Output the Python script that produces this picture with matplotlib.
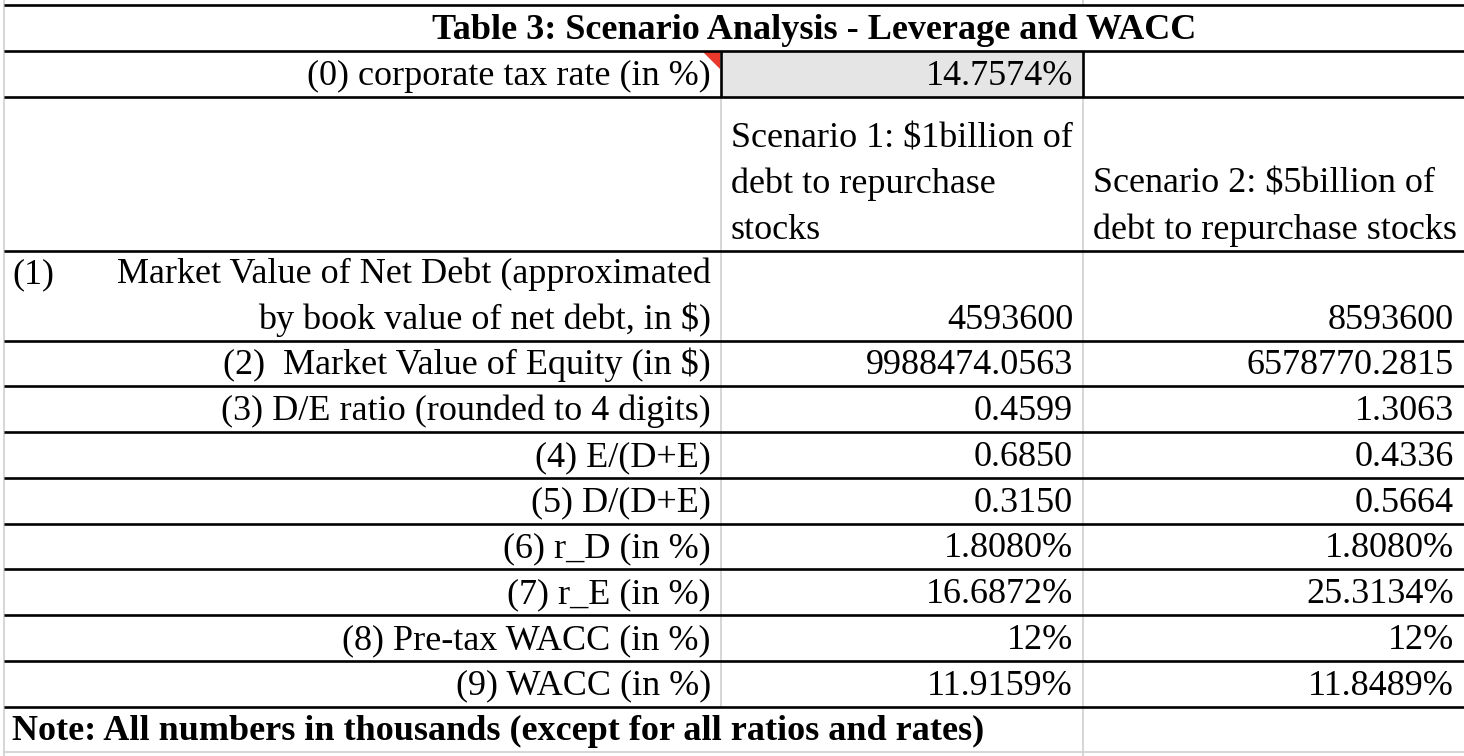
import matplotlib
matplotlib.use('Agg')
import matplotlib.pyplot as plt
from matplotlib.patches import Rectangle, Polygon

# table contents
title = 'Table 3: Scenario Analysis - Leverage and WACC'
tax_label = '(0) corporate tax rate (in %)'
tax_value = '14.7574%'
header_s1 = ['Scenario 1: $1billion of', 'debt to repurchase', 'stocks']
header_s2 = ['Scenario 2: $5billion of', 'debt to repurchase stocks']
labels = ['(2)  Market Value of Equity (in $)',
          '(3) D/E ratio (rounded to 4 digits)',
          '(4) E/(D+E)',
          '(5) D/(D+E)',
          '(6) r_D (in %)',
          '(7) r_E (in %)',
          '(8) Pre-tax WACC (in %)',
          '(9) WACC (in %)']
debt_label = ['(1)', 'Market Value of Net Debt (approximated', 'by book value of net debt, in $)']
debt_s1 = '4593600'
debt_s2 = '8593600'
scen1 = ['9988474.0563', '0.4599', '0.6850', '0.3150', '1.8080%', '16.6872%', '12%', '11.9159%']
scen2 = ['6578770.2815', '1.3063', '0.4336', '0.5664', '1.8080%', '25.3134%', '12%', '11.8489%']
note = 'Note: All numbers in thousands (except for all ratios and rates)'

W, H = 1464, 756
fig = plt.figure(figsize=(14.64, 7.56), dpi=100)
ax = fig.add_axes([0, 0, 1, 1])
ax.set_xlim(0, W)
ax.set_ylim(H, 0)
ax.axis('off')

font = ['Liberation Serif', 'DejaVu Serif']
fs = 26
black_lw = 1.9
gray = '#d0d0d0'
gray_lw = 1.2

# column edges
x0, x1, x2, x3 = 4, 721, 1083, W
pad = 10
row_h = 45.75
# horizontal edges
y_title = 5
y_tax = 51
y_head = 97
y_r1 = 250.7
y_r2 = 340.7
rows_y = [y_r2 + row_h * i for i in range(len(labels) + 1)]
y_note_bot = rows_y[-1] + row_h
base_off = 12

# gray fill of tax cell
ax.add_patch(Rectangle((x1, y_tax), x2 - x1, y_head - y_tax, facecolor='#e5e5e5',
                       edgecolor='none', zorder=0))
# comment marker
ax.add_patch(Polygon([(x1 - 19, y_tax), (x1 - 1, y_tax), (x1 - 1, y_tax + 18)],
                     closed=True, facecolor='#e8392c', edgecolor='none', zorder=1))

# gray grid lines (note text overflows the middle gridline)
ax.plot([x0, x0], [0, H], color=gray, lw=gray_lw, zorder=1)
ax.plot([x2, x2], [0, y_title], color=gray, lw=gray_lw, zorder=1)
ax.plot([x1, x1], [y_head, rows_y[-1]], color=gray, lw=gray_lw, zorder=1)
ax.plot([x2, x2], [y_head, H], color=gray, lw=gray_lw, zorder=1)
ax.plot([x0, W], [y_note_bot, y_note_bot], color=gray, lw=gray_lw, zorder=1)

# black borders
for y in [y_title, y_tax, y_head, y_r1] + rows_y:
    ax.plot([x0, W], [y, y], color='black', lw=black_lw, zorder=2, solid_capstyle='butt')
for x in [x1, x2]:
    ax.plot([x, x], [y_tax, y_head], color='black', lw=black_lw, zorder=2, solid_capstyle='butt')

kw = dict(family=font, fontsize=fs, va='baseline', color='black')

# title and tax row
ax.text(814, y_tax - base_off, title, ha='center', fontweight='bold', **kw)
ax.text(x1 - pad, y_head - base_off, tax_label, ha='right', **kw)
ax.text(x2 - pad, y_head - base_off, tax_value, ha='right', **kw)

# headers (bottom aligned, wrapped)
for i, line in enumerate(reversed(header_s1)):
    ax.text(x1 + pad, y_r1 - base_off - i * row_h, line, ha='left', **kw)
for i, line in enumerate(reversed(header_s2)):
    ax.text(x2 + pad, y_r1 - base_off - i * row_h, line, ha='left', **kw)

# row 1 (two lines)
ax.text(x0 + 8, y_r2 - base_off - row_h, debt_label[0], ha='left', **kw)
ax.text(x1 - pad, y_r2 - base_off - row_h, debt_label[1], ha='right', **kw)
ax.text(x1 - pad, y_r2 - base_off, debt_label[2], ha='right', **kw)
ax.text(x2 - pad, y_r2 - base_off, debt_s1, ha='right', **kw)
ax.text(x3 - pad, y_r2 - base_off, debt_s2, ha='right', **kw)

# remaining rows
for i, (lab, v1, v2) in enumerate(zip(labels, scen1, scen2)):
    yb = rows_y[i + 1] - base_off
    ax.text(x1 - pad, yb, lab, ha='right', **kw)
    ax.text(x2 - pad, yb, v1, ha='right', **kw)
    ax.text(x3 - pad, yb, v2, ha='right', **kw)

# note
ax.text(x0 + 8, y_note_bot - base_off, note, ha='left', fontweight='bold', **kw)

fig.savefig('out.png', dpi=100, facecolor='white')
